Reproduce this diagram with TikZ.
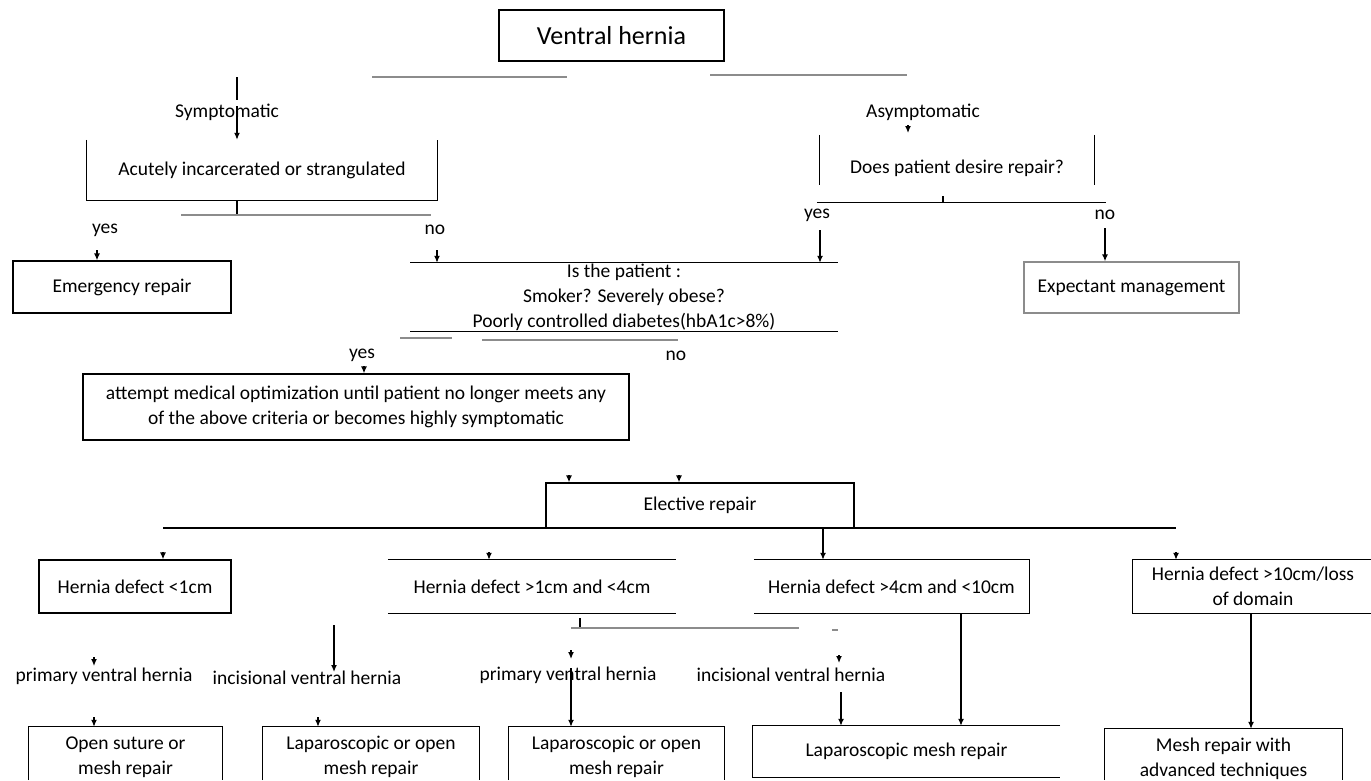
\documentclass[tikz,border=0pt]{standalone}
\usepackage{fontspec}
\setmainfont{Carlito}
\usetikzlibrary{arrows.meta}
\tikzset{
  txt/.style={font=\fontsize{19.5}{25}\selectfont, align=center, inner sep=0pt},
  lbl/.style={font=\fontsize{19.5}{22}\selectfont, inner sep=0pt},
  box/.style={txt, draw, line width=1.3pt},
  frame/.style={txt},
  ln/.style={line width=1.3pt},
  faint/.style={line width=1.3pt, black!45},
  arr/.style={line width=1.3pt, -{Latex[length=7pt,width=6pt]}},
}
\begin{document}
\begin{tikzpicture}[x=1pt,y=-1pt]
\useasboundingbox (0,0) rectangle (1371,780);
\coordinate (bot) at (0,780);

% ---- nodes ----
\node[box, minimum width=225pt, minimum height=51pt, font=\fontsize{26}{30}\selectfont] (vh) at (611.5,35.5) {Ventral hernia};
\node[lbl] (sym) at (227,112) {Symptomatic};
\node[lbl] (asym) at (923,112) {Asymptomatic};
\node[frame, minimum width=350pt, minimum height=60pt] (acute) at (262,170) {Acutely incarcerated or strangulated};
\node[frame, minimum width=274pt, minimum height=67pt] (desire) at (957,168.5) {Does patient desire repair?};
\node[lbl] (yes1) at (105,230) {yes};
\node[lbl] (no1) at (435,230) {no};
\node[lbl] (yes2) at (817,215) {yes};
\node[lbl] (no2) at (1105,215) {no};
\node[box, minimum width=218pt, minimum height=52pt] (emerg) at (122,287) {Emergency repair};
\node[frame, minimum width=427pt, minimum height=68pt] (isp) at (624,297) {Is the patient :\\Smoker? Severely obese?\\Poorly controlled diabetes(hbA1c>8\%)};
\node[box, draw=black!45, minimum width=215pt, minimum height=51pt] (expect) at (1131.5,287.5) {Expectant management};
\node[lbl] (yes3) at (362,355) {yes};
\node[lbl] (no3) at (676,356) {no};
\node[box, minimum width=546pt, minimum height=66pt] (attempt) at (356,407) {attempt medical optimization until patient no longer meets any\\of the above criteria or becomes highly symptomatic};
\node[box, minimum width=308pt, minimum height=45pt] (elect) at (700,505.5) {Elective repair};
\node[box, minimum width=192pt, minimum height=53pt] (d1) at (135,586.5) {Hernia defect <1cm};
\node[frame, minimum width=288pt, minimum height=53pt] (d2) at (532,586.5) {Hernia defect >1cm and <4cm};
\node[frame, minimum width=275pt, minimum height=53pt] (d3) at (891.5,586.5) {Hernia defect >4cm and <10cm};
\node[frame, minimum width=240pt, minimum height=53pt] (d4) at (1253,586.5) {Hernia defect >10cm/loss\\of domain};
\node[lbl] (pv1) at (104,676) {primary ventral hernia};
\node[lbl] (iv1) at (307,678) {incisional ventral hernia};
\node[lbl] (pv2) at (568,675) {primary ventral hernia};
\node[lbl] (iv2) at (791,675) {incisional ventral hernia};
\node[frame, minimum width=193pt, minimum height=60pt] (open) at (125.5,757) {Open suture or\\mesh repair};
\node[frame, minimum width=216pt, minimum height=60pt] (lap1) at (371,757) {Laparoscopic or open\\mesh repair};
\node[frame, minimum width=215pt, minimum height=60pt] (lap2) at (616.5,757) {Laparoscopic or open\\mesh repair};
\node[frame, minimum width=307pt, minimum height=51pt] (lapm) at (906.5,751.5) {Laparoscopic mesh repair};
\node[frame, minimum width=237pt, minimum height=60pt] (adv) at (1223.5,759) {Mesh repair with\\advanced techniques};

% ---- partial frames ----
\draw[ln] (acute.north west) -- (acute.south west) -- (acute.south east) -- (acute.north east);
\draw[ln] (desire.north west) -- ([yshift=17pt]desire.south west);
\draw[ln] (desire.north east) -- ([yshift=17pt]desire.south east);
\draw[ln] ([xshift=-3pt]desire.south west) -- ([xshift=12pt]desire.south east);
\draw[ln] (isp.north west) -- (isp.north east);
\draw[ln] (isp.south west) -- (isp.south east);
\draw[ln] (d2.north west) -- (d2.north east);
\draw[ln] (d2.south west) -- (d2.south east);
\draw[ln] (d3.north west) -- (d3.north east) -- (d3.south east) -- (d3.south west);
\draw[ln] (d4.north east) -- (d4.north west) -- (d4.south west) -- (d4.south east);
\draw[ln] (open.west |- bot) -- (open.north west) -- (open.north east) -- (open.east |- bot);
\draw[ln] (lap1.west |- bot) -- (lap1.north west) -- (lap1.north east) -- (lap1.east |- bot);
\draw[ln] (lap2.west |- bot) -- (lap2.north west) -- (lap2.north east) -- (lap2.east |- bot);
\draw[ln] (lapm.north east) -- (lapm.north west) -- (lapm.south west) -- (lapm.south east);
\draw[ln] (adv.west |- bot) -- (adv.north west) -- (adv.north east) -- (adv.east |- bot);

% ---- free-end coordinates ----
\coordinate (gl1a) at (372,77);  \coordinate (gl1b) at (567,77);
\coordinate (gl2a) at (710,75);  \coordinate (gl2b) at (907,75);
\coordinate (s1a) at (237,77);   \coordinate (s1b) at (237,100);
\coordinate (s2a) at (237,106);
\coordinate (ab) at (237,200);   \coordinate (ah) at (237,215);
\coordinate (h1a) at (181,215);  \coordinate (h1b) at (431,215);
\coordinate (t1) at (97,250);    \coordinate (t2) at (437,250);
\coordinate (t3) at (908,125);
\coordinate (tk1) at (943,196);
\coordinate (y2) at (820,230);   \coordinate (n2) at (1105,228);
\coordinate (g3a) at (400,338);  \coordinate (g3b) at (452,338);
\coordinate (g4a) at (482,340);  \coordinate (g4b) at (678,340);
\coordinate (t4) at (364,366);
\coordinate (t5) at (569,475);   \coordinate (t6) at (679,475);
\coordinate (la) at (163,528);   \coordinate (lb) at (1176,528);
\coordinate (t7) at (163,552);   \coordinate (t8) at (489,552);   \coordinate (t9) at (1176,552);
\coordinate (tk2a) at (580,618); \coordinate (tk2b) at (580,627);
\coordinate (g5a) at (571,628);  \coordinate (g5b) at (799,628);
\coordinate (g6a) at (832,630);  \coordinate (g6b) at (838,630);
\coordinate (v1a) at (334,625);  \coordinate (v1b) at (334,672);
\coordinate (t10a) at (94,657);  \coordinate (t10b) at (94,666);
\coordinate (t11a) at (571,650); \coordinate (t11b) at (571,659);
\coordinate (v2a) at (571,668);
\coordinate (t12a) at (839,655); \coordinate (t12b) at (839,663);
\coordinate (v3a) at (841,692);
\coordinate (t13) at (94,717);   \coordinate (t14) at (318,717);

% ---- connectors ----
\draw[faint] (gl1a) -- (gl1b);
\draw[faint] (gl2a) -- (gl2b);
\draw[ln] (s1a) -- (s1b);
\draw[arr] (s2a) -- (acute.north -| s2a);
\draw[ln] (ab) -- (ah);
\draw[faint] (h1a) -- (h1b);
\draw[arr] (t1) -- (emerg.north -| t1);
\draw[arr] (t2) -- (isp.north -| t2);
\draw[arr] (t3) -- ++(0,8);
\draw[ln] (tk1) -- (desire.south -| tk1);
\draw[arr] (y2) -- (isp.north -| y2);
\draw[arr] (n2) -- (expect.north -| n2);
\draw[faint] (g3a) -- (g3b);
\draw[faint] (g4a) -- (g4b);
\draw[arr] (t4) -- (attempt.north -| t4);
\draw[arr] (t5) -- (elect.north -| t5);
\draw[arr] (t6) -- (elect.north -| t6);
\draw[ln] (la) -- (lb);
\draw[arr] (elect.south -| 823,0) -- (d3.north -| 823,0);
\draw[arr] (t7) -- (d1.north -| t7);
\draw[arr] (t8) -- (d2.north -| t8);
\draw[arr] (t9) -- (d4.north -| t9);
\draw[ln] (tk2a) -- (tk2b);
\draw[faint] (g5a) -- (g5b);
\draw[faint] (g6a) -- (g6b);
\draw[arr] (v1a) -- (v1b);
\draw[arr] (t10a) -- (t10b);
\draw[arr] (t11a) -- (t11b);
\draw[arr] (v2a) -- (lap2.north -| v2a);
\draw[arr] (t12a) -- (t12b);
\draw[arr] (v3a) -- (lapm.north -| v3a);
\draw[arr] (d3.south -| 961,0) -- (lapm.north -| 961,0);
\draw[arr] (t13) -- (open.north -| t13);
\draw[arr] (t14) -- (lap1.north -| t14);
\draw[arr] (d4.south -| 1251,0) -- (adv.north -| 1251,0);
\end{tikzpicture}
\end{document}
